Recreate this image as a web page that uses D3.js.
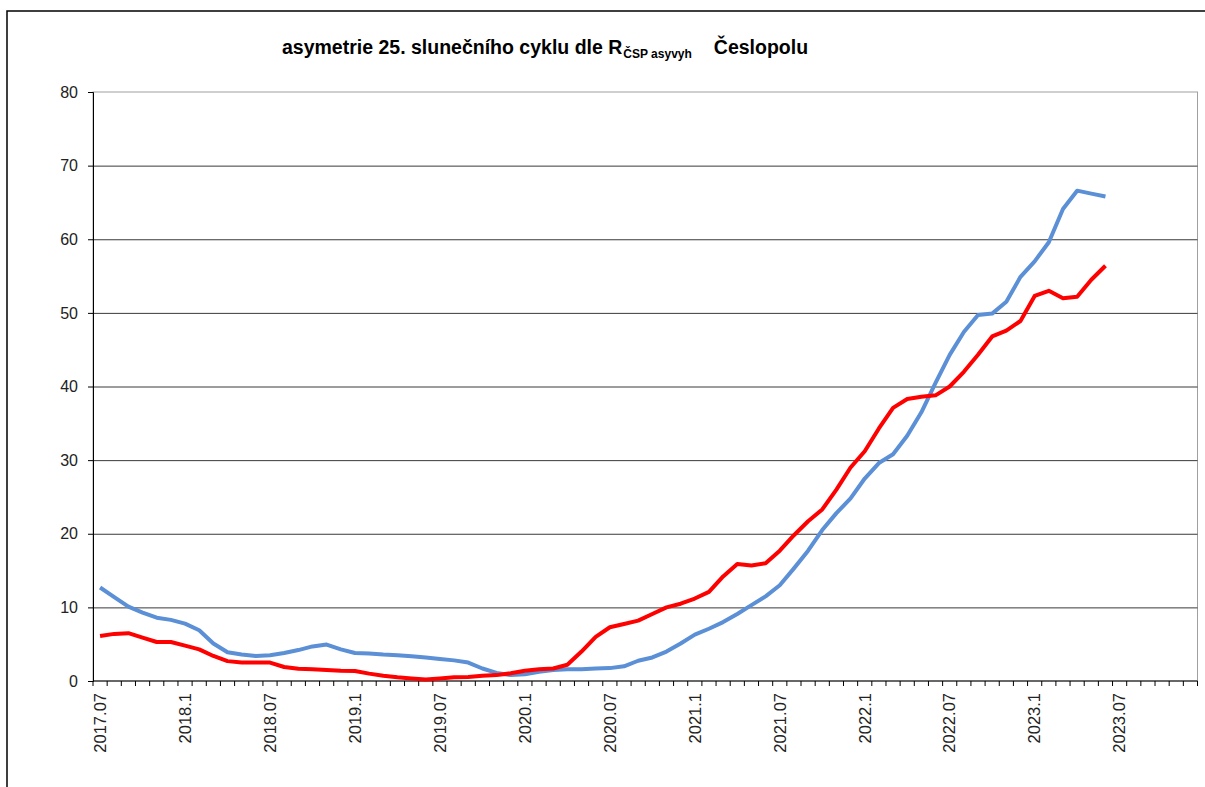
<!DOCTYPE html>
<html>
<head>
<meta charset="utf-8">
<script src="https://cdn.jsdelivr.net/npm/d3@7"></script>
<style>
  body { margin: 0; background: #fff; }
  svg { display: block; font-family: "Liberation Sans", Arial, sans-serif; }
</style>
</head>
<body>
<svg id="chart" width="1205" height="787"></svg>
<script>
// measured series, monthly from 2017.07
var blue = [12.7, 11.4, 10.1, 9.3, 8.6, 8.3, 7.8, 6.9, 5.1, 3.9, 3.6, 3.4,
  3.5, 3.8, 4.2, 4.7, 4.95, 4.3, 3.8, 3.75, 3.6, 3.5, 3.35, 3.2,
  3.0, 2.8, 2.5, 1.7, 1.1, 0.8, 0.9, 1.25, 1.5, 1.6, 1.6, 1.7,
  1.75, 2.0, 2.75, 3.2, 4.0, 5.1, 6.3, 7.1, 8.0, 9.1, 10.3, 11.5,
  13.0, 15.3, 17.7, 20.5, 22.8, 24.8, 27.5, 29.6, 30.8, 33.3, 36.5, 40.5,
  44.3, 47.4, 49.7, 49.9, 51.5, 54.9, 57.0, 59.6, 64.1, 66.6, 66.2, 65.8];

var red = [6.1, 6.4, 6.5, 5.9, 5.3, 5.3, 4.8, 4.3, 3.4, 2.7, 2.5, 2.5,
  2.5, 1.9, 1.65, 1.6, 1.5, 1.4, 1.35, 1.0, 0.7, 0.5, 0.35, 0.2,
  0.35, 0.5, 0.55, 0.7, 0.8, 1.05, 1.4, 1.6, 1.7, 2.2, 4.0, 6.0,
  7.3, 7.75, 8.2, 9.1, 10.0, 10.5, 11.2, 12.1, 14.2, 15.9, 15.7, 16.0,
  17.7, 19.8, 21.7, 23.3, 26.0, 29.0, 31.2, 34.3, 37.1, 38.3, 38.6, 38.8,
  40.0, 42.0, 44.3, 46.8, 47.6, 48.9, 52.3, 53.0, 52.0, 52.2, 54.5, 56.4];

// category axis 2017.07 .. 2023.12, labels every 6 months
var tickLabels = ["2017.07", "2018.1", "2018.07", "2019.1", "2019.07", "2020.1", "2020.07",
  "2021.1", "2021.07", "2022.1", "2022.07", "2023.1", "2023.07"];
var yTicks = [0, 10, 20, 30, 40, 50, 60, 70, 80];

var months = [];
for (var yr = 2017; yr <= 2023; yr++) {
  for (var m = (yr == 2017 ? 7 : 1); m <= 12; m++) {
    months.push(yr + "-" + m);
  }
}

var svg = d3.select("#chart");
var pLeft = 93, pRight = 1197.5, pTop = 92, pBottom = 681;

var x = d3.scaleBand().domain(months).range([pLeft, pRight]).padding(0);
var y = d3.scaleLinear().domain([0, 80]).range([pBottom, pTop]);
var bw = x.bandwidth();

// outer chart frame (runs off the right/bottom of the picture)
svg.append("rect")
  .attr("x", 7).attr("y", 11)
  .attr("width", 1400).attr("height", 1000)
  .attr("fill", "none").attr("stroke", "#000").attr("stroke-width", 1.5);

// plot area border
svg.append("rect")
  .attr("x", pLeft).attr("y", pTop)
  .attr("width", pRight - pLeft).attr("height", pBottom - pTop)
  .attr("fill", "none").attr("stroke", "#a0a0a0").attr("stroke-width", 1);

// gridlines
svg.append("g")
  .attr("transform", "translate(" + pLeft + ",0)")
  .call(d3.axisLeft(y).tickValues(yTicks.slice(1, -1)).tickSize(-(pRight - pLeft)).tickFormat(""))
  .call(function(g) {
    g.select(".domain").remove();
    g.selectAll("line").attr("stroke", "#3a3a3a").attr("stroke-width", 1);
  });

// y axis
svg.append("g")
  .attr("transform", "translate(" + pLeft + ",0)")
  .call(d3.axisLeft(y).tickValues(yTicks).tickSize(5).tickPadding(10))
  .call(function(g) {
    g.select(".domain").attr("stroke", "#000");
    g.selectAll("line").attr("stroke", "#000");
    g.selectAll("text").attr("font-size", 16).attr("fill", "#222")
      .attr("font-family", "Liberation Sans, Arial, sans-serif");
  });

// x axis line + ticks at category boundaries
var xg = svg.append("g");
xg.append("line")
  .attr("x1", pLeft).attr("x2", pRight).attr("y1", pBottom).attr("y2", pBottom)
  .attr("stroke", "#000");
var bounds = months.map(function(d) { return x(d); }).concat([pRight]);
xg.selectAll(".tk").data(bounds).enter().append("line")
  .attr("x1", function(d) { return d; }).attr("x2", function(d) { return d; })
  .attr("y1", pBottom).attr("y2", pBottom + 5)
  .attr("stroke", "#000");

xg.selectAll(".lbl").data(tickLabels).enter().append("text")
  .attr("transform", function(d, i) {
    var cx = x(months[i * 6]) + bw / 2;
    return "translate(" + cx + "," + (pBottom + 12) + ") rotate(-90)";
  })
  .attr("text-anchor", "end")
  .attr("dy", "0.35em")
  .attr("font-size", 16.5)
  .attr("fill", "#222")
  .text(function(d) { return d; });

// series
var line = d3.line()
  .x(function(d, i) { return x(months[i]) + bw / 2; })
  .y(function(d) { return y(d); });

svg.append("path").datum(blue)
  .attr("d", line)
  .attr("fill", "none").attr("stroke", "#5b8fd6").attr("stroke-width", 4)
  .attr("stroke-linejoin", "round");

svg.append("path").datum(red)
  .attr("d", line)
  .attr("fill", "none").attr("stroke", "#ff0000").attr("stroke-width", 4)
  .attr("stroke-linejoin", "round");

// title
var title = svg.append("text")
  .attr("x", 282).attr("y", 54)
  .attr("font-size", 19.5).attr("font-weight", "bold").attr("fill", "#000");
title.append("tspan").text("asymetrie 25. slunečního cyklu dle R");
title.append("tspan").attr("font-size", 12).attr("dy", 4).attr("dx", 1).text("ČSP asyvyh");
title.append("tspan").attr("dy", -4).attr("dx", 22).text("Česlopolu");
</script>
</body>
</html>
